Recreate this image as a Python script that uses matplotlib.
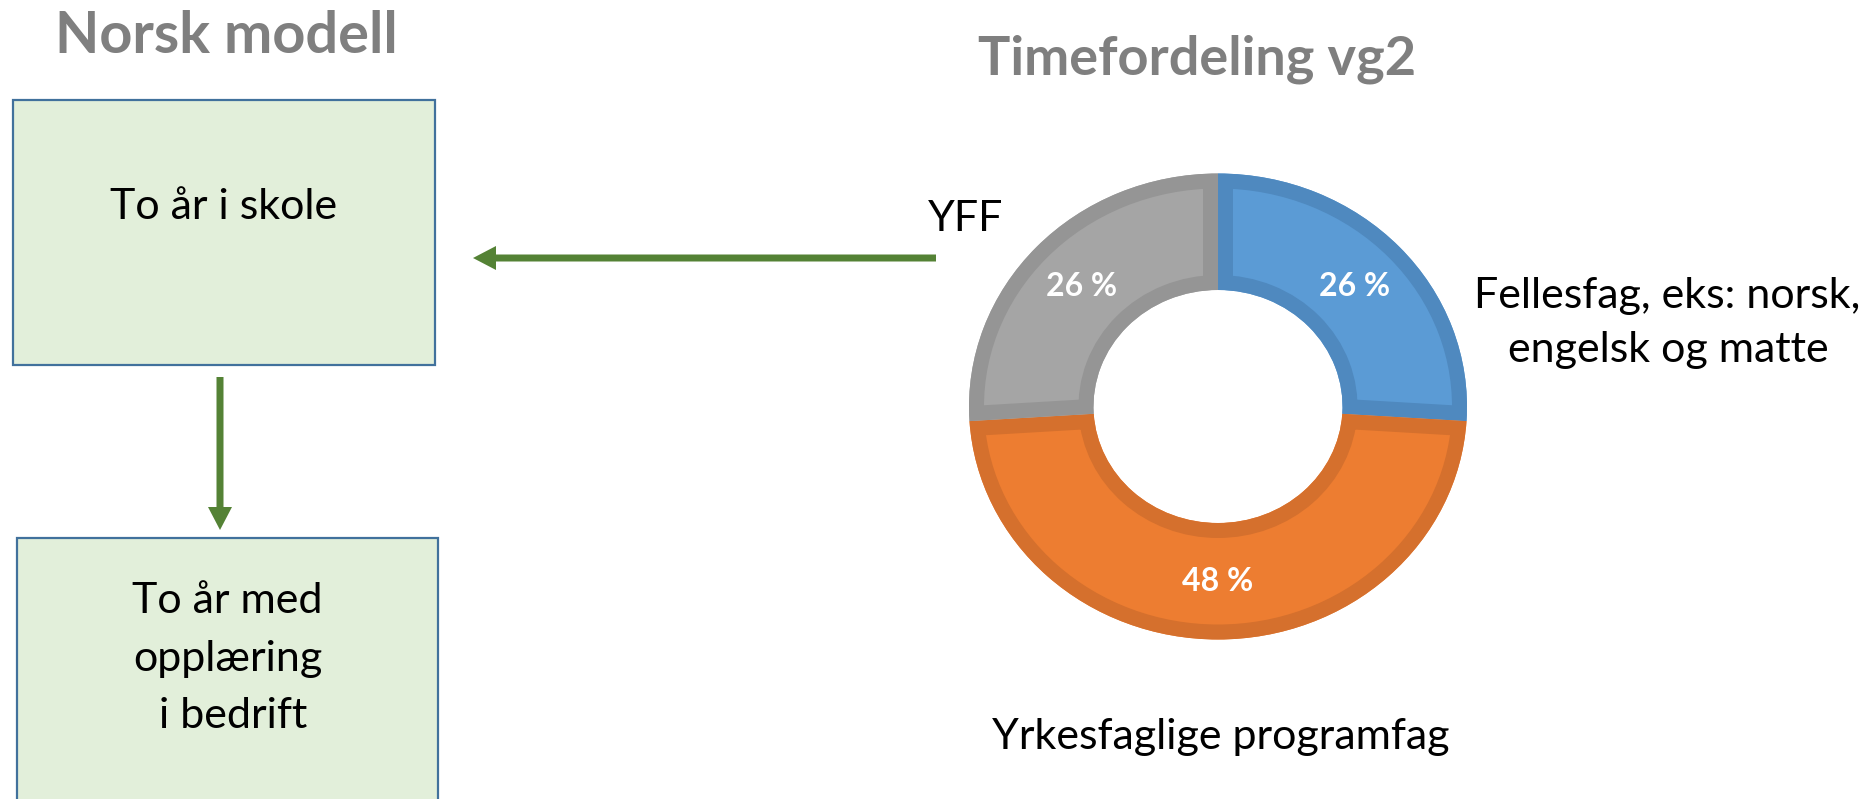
import matplotlib as mpl
import matplotlib.pyplot as plt
from matplotlib.patches import Rectangle, FancyArrow, PathPatch

# donut data
shares = [26, 48, 26]
share_names = ['Fellesfag, eks: norsk,\nengelsk og matte', 'Yrkesfaglige programfag', 'YFF']
fill_colors = ['#5B9BD5', '#ED7D31', '#A5A5A5']
edge_colors = ['#4F89BF', '#D5702D', '#959595']

# flow chart texts
title_left = 'Norsk modell'
title_right = 'Timefordeling vg2'
box_top_lines = ['To år i skole']
box_bottom_lines = ['To år med', 'opplæring', ' i bedrift']

mpl.rcParams['font.family'] = ['Lato', 'DejaVu Sans']
W, H = 1875, 799
fig = plt.figure(figsize=(W / 100, H / 100), dpi=100)

# overlay axes in pixel coordinates
ov = fig.add_axes([0, 0, 1, 1])
ov.set_xlim(0, W)
ov.set_ylim(H, 0)
ov.axis('off')

green = '#548235'
box_face = '#E2EFDA'
box_edge = '#41719C'
body = 31

ov.text(226, 53, title_left, ha='center', va='baseline', fontsize=41.5,
        fontweight='bold', color='#7F7F7F')
ov.text(1197, 75, title_right, ha='center', va='baseline', fontsize=39,
        fontweight='bold', color='#7F7F7F')

ov.add_patch(Rectangle((13, 100), 422, 265, facecolor=box_face,
                       edgecolor=box_edge, lw=1.6))
ov.add_patch(Rectangle((17, 538), 421, 300, facecolor=box_face,
                       edgecolor=box_edge, lw=1.6))
for i, line in enumerate(box_top_lines):
    ov.text(224, 219 + i * 57, line, ha='center', va='baseline', fontsize=body)
for i, line in enumerate(box_bottom_lines):
    ov.text(227.5, 613 + i * 57.5, line, ha='center', va='baseline', fontsize=body)

# arrows
ov.add_patch(FancyArrow(220, 377, 0, 153, width=7, head_width=24, head_length=23,
                        length_includes_head=True, color=green, lw=0))
ov.add_patch(FancyArrow(936, 258, -463, 0, width=7, head_width=24, head_length=23,
                        length_includes_head=True, color=green, lw=0))

# donut
cx, cy, rx, ry = 1218, 406.5, 249, 233
ax = fig.add_axes([(cx - rx) / W, 1 - (cy + ry) / H, 2 * rx / W, 2 * ry / H])
wedges, _, pcts = ax.pie(shares, colors=fill_colors, startangle=90, counterclock=False,
                         radius=1, wedgeprops=dict(width=0.5, linewidth=0),
                         autopct='%.0f %%', pctdistance=0.75,
                         textprops=dict(color='white', fontsize=23, fontweight='bold'))
ax.set_aspect('auto')
ax.set_xlim(-1, 1)
ax.set_ylim(-1, 1)
# darker inner border: stroke the wedge outline, clipped to the wedge itself
for w, ec in zip(wedges, edge_colors):
    border = PathPatch(w.get_path(), facecolor='none', edgecolor=ec, lw=21.6,
                       transform=ax.transData, zorder=w.get_zorder() + 0.1)
    ax.add_patch(border)
    border.set_clip_path(w.get_path(), ax.transData)
for t in pcts:
    t.set_zorder(5)

ov.text(1667, 308, 'Fellesfag, eks: norsk,', ha='center', va='baseline', fontsize=body)
ov.text(1668, 362, 'engelsk og matte', ha='center', va='baseline', fontsize=body)
ov.text(1221, 749, share_names[1], ha='center', va='baseline', fontsize=body)
ov.text(966, 231, share_names[2], ha='center', va='baseline', fontsize=body)

plt.savefig('out.png', dpi=100)
